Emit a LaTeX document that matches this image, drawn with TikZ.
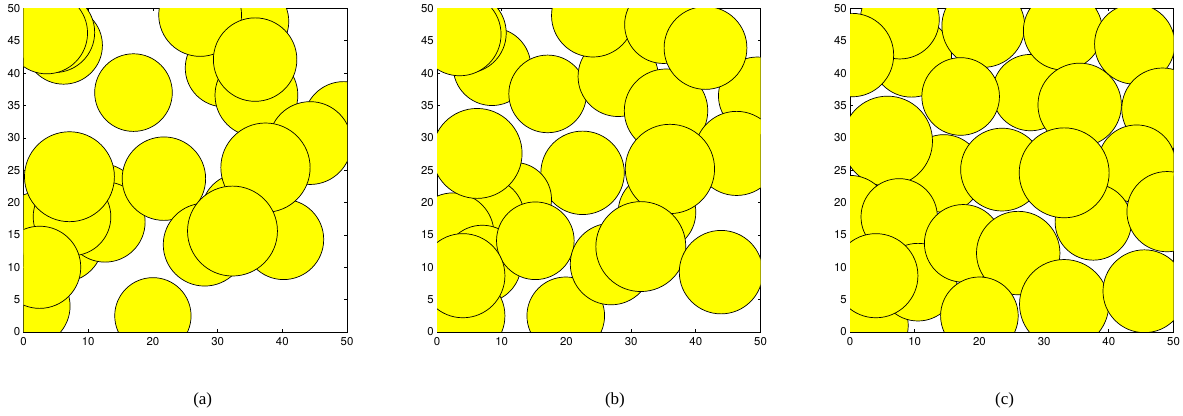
\documentclass[tikz,border=0pt]{standalone}
\usepackage{fontspec}
\setmainfont{Liberation Serif}
\newfontfamily\axisfont{TeX Gyre Heros}
\definecolor{ballfill}{RGB}{255, 255, 0}
\begin{document}
\begin{tikzpicture}[
   x=0.5pt, y=0.5pt,
   ball/.style={draw=black, fill=ballfill, line width=0.35pt},
   axisbox/.style={draw=black, line width=0.45pt},
   tickmark/.style={draw=black, line width=0.35pt},
   ticklab/.style={font=\axisfont\fontsize{5.7}{6}\selectfont, inner sep=0},
   caplab/.style={font=\fontsize{8.5}{10}\selectfont, inner sep=0}
  ]

  % Plot scale (px per unit), tick length
  \pgfmathsetmacro{\s}{6.47}
  \pgfmathsetmacro{\tl}{0.45}

  \useasboundingbox (0,0) rectangle (1183,416);

  \foreach \X/\P/\C/\balls in {
     23.5/a/2.7/{1/4/6.2, 6/14/6.3, 2.5/15.5/6.2, 12/20/6, 12.6/17/6.2, 7.5/17.8/6,
                 2.5/10/6.35, 7.1/24/6.95, 6.2/44.3/6, 4.8/46.3/6.2, 3.6/46.2/6.3,
                 17/37/6, 35/48/6, 31/40.8/6, 36/36.6/6.4, 27.3/49/6.4, 35.8/42.1/6.45,
                 49.5/32.5/6.2, 44.3/29.2/6.4, 33.5/18.5/6, 40.2/14.3/6.2, 37.4/25.4/6.9,
                 21.7/23.7/6.45, 20/2.5/5.9, 28/13.5/6.4, 32.3/15.6/6.95},
     437/b/2.5/{8.5/41/6, 4.5/46.2/6.2, 3.5/46/6.4, 17.1/36.8/6, 28/39.5/6.2, 24.1/48.9/6.4,
                 35/47.5/6, 49.5/36.5/6, 35.4/34.2/6.45, 41.5/43.9/6.4, 46.3/27.6/6.5,
                 34/18.5/6, 36/25.2/6.9, 22.5/24.6/6.45, 12/20.5/5.7, 7.5/17.8/6,
                 2.5/15.2/6.3, 6.2/27.6/6.95, 7/10.5/6, 15.2/14.1/6, 4/2.5/6.5, 4/8.7/6.5,
                 19.9/2.5/6, 26.9/10.5/6.3, 31.5/13.2/6.95, 43.9/9.25/6.45},
     850/c/-1.1/{9.5/42.5/6.2, 7.7/48.3/6.1, 0.3/42.8/6.45, 27.9/37/5.9, 20.6/47.3/6.4,
                 17.1/36.4/6, 32.9/46.6/6.1, 44/44.5/6.2, 48.3/34.5/6.3, 35.5/35.1/6.45,
                 14.5/24.5/6, 5.8/29.5/6.95, 44.3/26/6, 37.6/17/5.9, 23.5/25.1/6.4,
                 33.1/24.6/6.95, 49/18.6/6.2, 0/18/6.2, 7.6/17.8/5.9, 3/1/6, 10.5/7.7/6,
                 17.5/13.7/6, 26/12.2/6.45, 4/8.7/6.5, 20/2.5/6, 33.1/4.3/6.9, 45.5/6.3/6.4}} {
    \begin{scope}[shift={(\X, 84)}, scale=\s]
      \draw[axisbox] (0,0) rectangle (50,50);
      \foreach \t in {0,10,...,50} {
        \draw[tickmark] (\t,0) -- ++(0,\tl);
        \draw[tickmark] (\t,50) -- ++(0,-\tl);
        \node[ticklab, anchor=north] (x\P\t) at (\t,-0.8) {\t};
      }
      \foreach \t in {0,5,...,50} {
        \draw[tickmark] (0,\t) -- ++(\tl,0);
        \draw[tickmark] (50,\t) -- ++(-\tl,0);
        \node[ticklab, anchor=east] (y\P\t) at (-0.45,\t) {\t};
      }
      \begin{scope}
        \clip (0,0) rectangle (50,50);
        \foreach \u/\v/\r in \balls {
          \filldraw[ball] (\u,\v) circle[radius=\r];
        }
      \end{scope}
      \node[caplab] (cap\P) at (25+\C,-10.5) {(\P)};
    \end{scope}
  }

\end{tikzpicture}
\end{document}
